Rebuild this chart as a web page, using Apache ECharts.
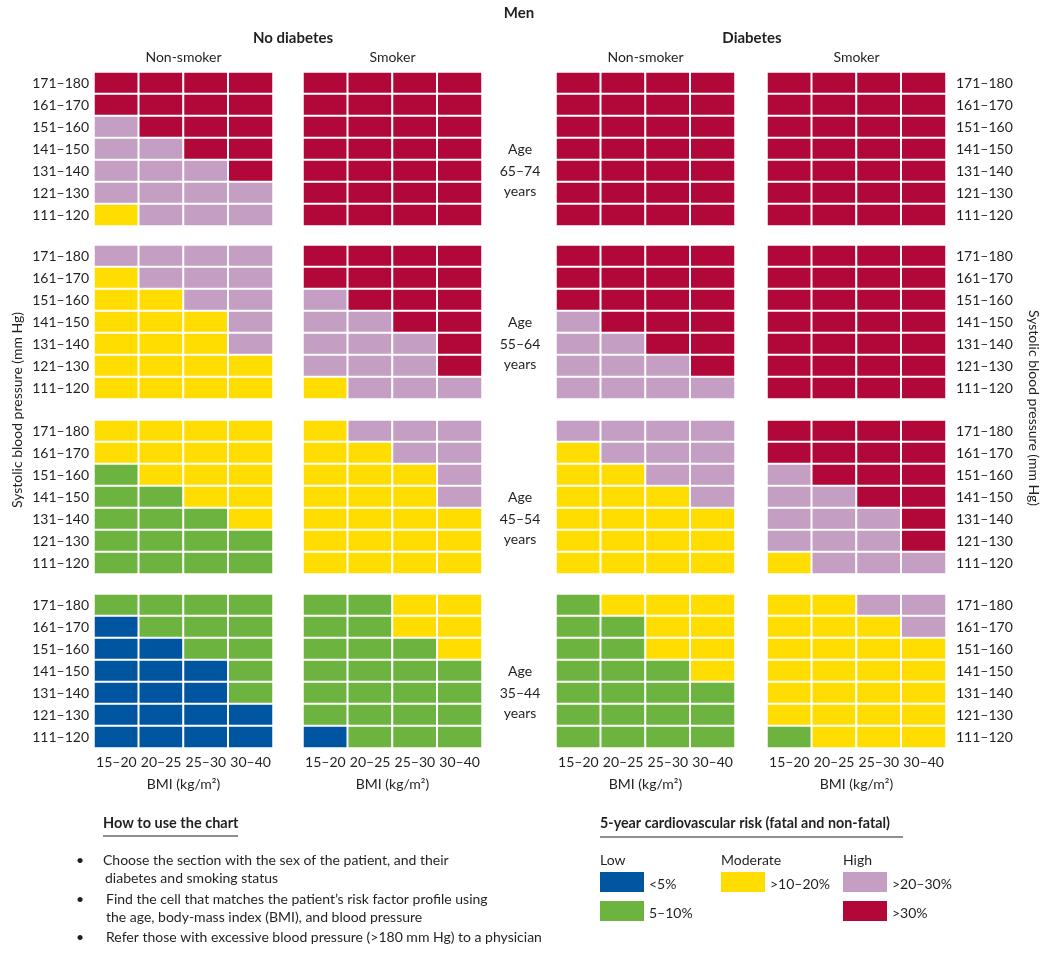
<!DOCTYPE html>
<html>
<head>
<meta charset="utf-8">
<script src="https://cdn.jsdelivr.net/npm/echarts@6/dist/echarts.min.js"></script>
<style>html,body{margin:0;padding:0;background:#fff}#c{width:1050px;height:958px}</style>
</head>
<body>
<div id="c"></div>
<script>
// ---- data ----
const bmiLabels = ['15–20', '20–25', '25–30', '30–40'];
const sbpLabels = ['171–180', '161–170', '151–160', '141–150', '131–140', '121–130', '111–120'];
const ageGroups = ['65–74', '55–64', '45–54', '35–44'];
const diabetesHeaders = ['No diabetes', 'Diabetes'];
const smokingHeaders = ['Non-smoker', 'Smoker', 'Non-smoker', 'Smoker'];
const riskGroups = ['Low', 'Moderate', 'High'];
const riskLabels = ['<5%', '5–10%', '>10–20%', '>20–30%', '>30%'];
// risk level per cell: 0 <5%, 1 5–10%, 2 >10–20%, 3 >20–30%, 4 >30%; rows from 171–180 down to 111–120
const age65_noDiab_non = [[4,4,4,4],[4,4,4,4],[3,4,4,4],[3,3,4,4],[3,3,3,4],[3,3,3,3],[2,3,3,3]];
const age65_noDiab_smk = [[4,4,4,4],[4,4,4,4],[4,4,4,4],[4,4,4,4],[4,4,4,4],[4,4,4,4],[4,4,4,4]];
const age65_diab_non   = [[4,4,4,4],[4,4,4,4],[4,4,4,4],[4,4,4,4],[4,4,4,4],[4,4,4,4],[4,4,4,4]];
const age65_diab_smk   = [[4,4,4,4],[4,4,4,4],[4,4,4,4],[4,4,4,4],[4,4,4,4],[4,4,4,4],[4,4,4,4]];
const age55_noDiab_non = [[3,3,3,3],[2,3,3,3],[2,2,3,3],[2,2,2,3],[2,2,2,3],[2,2,2,2],[2,2,2,2]];
const age55_noDiab_smk = [[4,4,4,4],[4,4,4,4],[3,4,4,4],[3,3,4,4],[3,3,3,4],[3,3,3,4],[2,3,3,3]];
const age55_diab_non   = [[4,4,4,4],[4,4,4,4],[4,4,4,4],[3,4,4,4],[3,3,4,4],[3,3,3,4],[3,3,3,3]];
const age55_diab_smk   = [[4,4,4,4],[4,4,4,4],[4,4,4,4],[4,4,4,4],[4,4,4,4],[4,4,4,4],[4,4,4,4]];
const age45_noDiab_non = [[2,2,2,2],[2,2,2,2],[1,2,2,2],[1,1,2,2],[1,1,1,2],[1,1,1,1],[1,1,1,1]];
const age45_noDiab_smk = [[2,3,3,3],[2,2,3,3],[2,2,2,3],[2,2,2,3],[2,2,2,2],[2,2,2,2],[2,2,2,2]];
const age45_diab_non   = [[3,3,3,3],[2,3,3,3],[2,2,3,3],[2,2,2,3],[2,2,2,2],[2,2,2,2],[2,2,2,2]];
const age45_diab_smk   = [[4,4,4,4],[4,4,4,4],[3,4,4,4],[3,3,4,4],[3,3,3,4],[3,3,3,4],[2,3,3,3]];
const age35_noDiab_non = [[1,1,1,1],[0,1,1,1],[0,0,1,1],[0,0,0,1],[0,0,0,1],[0,0,0,0],[0,0,0,0]];
const age35_noDiab_smk = [[1,1,2,2],[1,1,2,2],[1,1,1,2],[1,1,1,1],[1,1,1,1],[1,1,1,1],[0,1,1,1]];
const age35_diab_non   = [[1,2,2,2],[1,1,2,2],[1,1,2,2],[1,1,1,2],[1,1,1,1],[1,1,1,1],[1,1,1,1]];
const age35_diab_smk   = [[2,2,3,3],[2,2,2,3],[2,2,2,2],[2,2,2,2],[2,2,2,2],[2,2,2,2],[1,2,2,2]];

const panels = [
  [age65_noDiab_non, age65_noDiab_smk, age65_diab_non, age65_diab_smk],
  [age55_noDiab_non, age55_noDiab_smk, age55_diab_non, age55_diab_smk],
  [age45_noDiab_non, age45_noDiab_smk, age45_diab_non, age45_diab_smk],
  [age35_noDiab_non, age35_noDiab_smk, age35_diab_non, age35_diab_smk]
];

// ---- style / layout ----
const riskColors = ['#0055a0', '#6cb33f', '#ffdd00', '#c49fc3', '#b10839'];
const FONT = 'Lato, "Open Sans", sans-serif';
const TXT = '#231f20';
const colLeft = [94, 303, 556, 767];
const colW = 179;
const rowTop = [72, 245, 420, 594];
const rowH = 154;

const grids = [], xAxes = [], yAxes = [], series = [];
let idx = 0;
for (let g = 0; g < 4; g++) {
  for (let c = 0; c < 4; c++) {
    grids.push({left: colLeft[c], top: rowTop[g], width: colW, height: rowH, containLabel: false});
    xAxes.push({
      type: 'category', gridIndex: idx, data: bmiLabels,
      axisLine: {show: false}, axisTick: {show: false}, splitLine: {show: false},
      axisLabel: {show: g === 3, interval: 0, margin: 7, color: TXT, fontSize: 14, fontFamily: FONT},
      name: g === 3 ? 'BMI (kg/m²)' : '', nameLocation: 'middle', nameGap: 29,
      nameTextStyle: {color: TXT, fontSize: 14, fontFamily: FONT}
    });
    yAxes.push({
      type: 'category', gridIndex: idx, data: sbpLabels, inverse: true,
      position: c === 3 ? 'right' : 'left',
      axisLine: {show: false}, axisTick: {show: false}, splitLine: {show: false},
      axisLabel: {show: c === 0 || c === 3, interval: 0, margin: c === 3 ? 10 : 5, color: TXT, fontSize: 14, fontFamily: FONT}
    });
    const m = panels[g][c];
    const data = [];
    m.forEach((row, r) => row.forEach((v, b) => data.push([b, r, v])));
    series.push({
      type: 'heatmap', xAxisIndex: idx, yAxisIndex: idx, data: data,
      itemStyle: {borderColor: '#ffffff', borderWidth: 2},
      emphasis: {disabled: true}, silent: true
    });
    idx++;
  }
}

const graphic = [];
function txt(x, y, text, opts) {
  opts = opts || {};
  graphic.push({
    type: 'text', x: x, y: y, rotation: opts.rotation || 0, silent: true,
    style: {
      text: text, fill: TXT, fontFamily: FONT, fontSize: opts.size || 14,
      fontWeight: opts.bold ? 'bold' : 'normal',
      align: opts.align || 'center', verticalAlign: 'middle'
    }
  });
}
txt(519, 13, 'Men', {bold: true, size: 15});
txt(293, 38, diabetesHeaders[0], {bold: true, size: 15});
txt(752, 38, diabetesHeaders[1], {bold: true, size: 15});
for (let c = 0; c < 4; c++) txt(colLeft[c] + colW / 2, 57, smokingHeaders[c]);
for (let g = 0; g < 4; g++) {
  const cy = rowTop[g] + rowH / 2;
  txt(520, cy, 'Age');
  txt(520, cy + 22, ageGroups[g]);
  txt(520, cy + 42, 'years');
}
txt(17, 410, 'Systolic blood pressure (mm Hg)', {rotation: Math.PI / 2});
txt(1034, 408, 'Systolic blood pressure (mm Hg)', {rotation: -Math.PI / 2});

// how to use
txt(103, 823, 'How to use the chart', {bold: true, align: 'left', size: 14.5});
graphic.push({type: 'line', silent: true, shape: {x1: 103, y1: 836, x2: 238, y2: 836}, style: {stroke: TXT, lineWidth: 1}});
const bullets = [
  [80, 860, 103, 'Choose the section with the sex of the patient, and their'],
  [null, 878, 105, 'diabetes and smoking status'],
  [80, 899, 106, 'Find the cell that matches the patient’s risk factor profile using'],
  [null, 917, 106, 'the age, body-mass index (BMI), and blood pressure'],
  [80, 937, 106, 'Refer those with excessive blood pressure (>180 mm Hg) to a physician']
];
bullets.forEach(b => {
  if (b[0] !== null) txt(b[0], b[1], '•', {align: 'center'});
  txt(b[2], b[1], b[3], {align: 'left'});
});

// legend
txt(600, 823, '5-year cardiovascular risk (fatal and non-fatal)', {bold: true, align: 'left', size: 14.3});
graphic.push({type: 'line', silent: true, shape: {x1: 600, y1: 837, x2: 903, y2: 837}, style: {stroke: TXT, lineWidth: 1}});
const legendCols = [600, 721, 843];
const legendItems = [[0, 0], [0, 1], [1, 0], [2, 0], [2, 1]]; // [column, slot]
riskGroups.forEach((t, i) => txt(legendCols[i], 860, t, {align: 'left'}));
legendItems.forEach((it, k) => {
  const x = legendCols[it[0]], y = 872 + it[1] * 29;
  graphic.push({type: 'rect', silent: true, shape: {x: x, y: y, width: 44, height: 20}, style: {fill: riskColors[k]}});
  txt(x + 49, y + 12, riskLabels[k], {align: 'left'});
});

const chart = echarts.init(document.getElementById('c'), null, {renderer: 'canvas'});
chart.setOption({
  backgroundColor: '#ffffff',
  animation: false,
  grid: grids, xAxis: xAxes, yAxis: yAxes, series: series,
  visualMap: {
    type: 'piecewise', show: false, dimension: 2,
    seriesIndex: series.map((s, i) => i),
    pieces: riskColors.map((col, i) => ({value: i, color: col, label: riskLabels[i]}))
  },
  graphic: graphic
});
</script>
</body>
</html>
